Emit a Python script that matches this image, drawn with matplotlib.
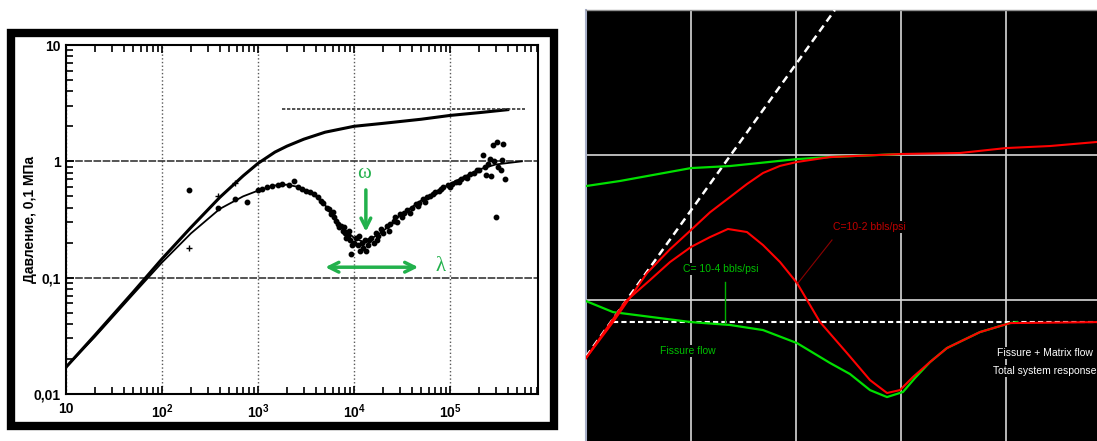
import matplotlib.pyplot as plt
import matplotlib.patches as mpatches

plt.rcParams['font.family'] = ['Liberation Sans', 'DejaVu Sans']
plt.rcParams['mathtext.default'] = 'regular'

# ---- left: field test, log-log (time vs pressure, 0.1 MPa) ----
t_p = [10, 20, 50, 100, 200, 400, 700, 1000, 1500, 2000, 3000, 5000,
       1e4, 2e4, 5e4, 1e5, 2e5, 4e5]
p_p = [0.017, 0.032, 0.075, 0.145, 0.27, 0.49, 0.75, 0.96, 1.2, 1.35,
       1.55, 1.78, 2.0, 2.12, 2.3, 2.48, 2.62, 2.78]

t_d = [10, 20, 50, 100, 200, 400, 700, 1000, 1500, 2000, 2700, 4000,
       5000, 6000, 8000, 1e4, 1.3e4, 2e4, 3e4, 5e4, 1e5, 2e5, 3e5, 5.6e5]
p_d = [0.017, 0.031, 0.072, 0.135, 0.24, 0.39, 0.5, 0.56, 0.62, 0.63,
       0.6, 0.5, 0.42, 0.34, 0.26, 0.22, 0.2, 0.25, 0.34, 0.46, 0.64,
       0.85, 0.94, 1.0]

dots_t = [190, 380, 570, 760, 1000, 1100, 1250, 1400, 1600, 1800, 2100,
          2400, 2600, 2900, 3200, 3500, 3800, 4200, 4500, 4800, 5200, 5500,
          5800, 6200, 6500, 6800, 7000, 7300, 7600, 8000, 8300, 8600, 9000,
          9300, 9600, 1.0e4, 1.05e4, 1.1e4, 1.15e4, 1.2e4, 1.25e4, 1.3e4,
          1.35e4, 1.4e4, 1.5e4, 1.6e4, 1.7e4, 1.8e4, 1.9e4, 2.0e4, 2.2e4,
          2.4e4, 2.6e4, 2.8e4, 3.0e4, 3.3e4, 3.6e4, 4.0e4, 4.4e4, 4.8e4,
          5.2e4, 5.7e4, 6.2e4, 7.0e4, 7.7e4, 8.5e4, 9.5e4, 1.05e5, 1.15e5,
          1.3e5, 1.45e5, 1.6e5, 1.8e5, 2.0e5, 2.2e5, 2.3e5, 2.4e5, 2.5e5,
          2.6e5, 2.7e5, 2.8e5, 2.9e5, 3.0e5, 3.1e5, 3.2e5, 3.4e5, 3.5e5,
          3.6e5, 3.7e5,
          # second row of the band
          6000, 7800, 8800, 1.12e4, 1.45e4, 1.75e4, 2.3e4, 2.7e4, 3.2e4,
          3.8e4, 4.6e4, 5.5e4, 6.6e4, 8.0e4, 1.0e5, 1.25e5, 1.5e5, 1.9e5]
dots_p = [0.57, 0.40, 0.47, 0.45, 0.57, 0.58, 0.60, 0.61, 0.63, 0.64, 0.62,
          0.68, 0.60, 0.58, 0.56, 0.54, 0.52, 0.49, 0.46, 0.44, 0.40, 0.39,
          0.35, 0.33, 0.31, 0.29, 0.27, 0.28, 0.25, 0.24, 0.22, 0.23, 0.21,
          0.16, 0.19, 0.20, 0.22, 0.19, 0.17, 0.20, 0.18, 0.21,
          0.17, 0.19, 0.22, 0.20, 0.24, 0.23, 0.26, 0.24, 0.28,
          0.29, 0.31, 0.30, 0.35, 0.36, 0.38, 0.40, 0.43, 0.44,
          0.47, 0.49, 0.50, 0.55, 0.56, 0.60, 0.62, 0.64, 0.67,
          0.70, 0.74, 0.78, 0.80, 0.85, 1.13, 0.90, 0.77, 0.95,
          1.05, 0.75, 1.37, 1.00, 0.33, 1.47, 0.90, 0.85, 1.02,
          1.40, 0.70,
          0.37, 0.27, 0.25, 0.23, 0.21, 0.21, 0.25, 0.33, 0.33,
          0.36, 0.41, 0.45, 0.52, 0.58, 0.60, 0.66, 0.72, 0.84]

plus_t = [190, 380, 570]
plus_p = [0.18, 0.50, 0.65]

asym_t = [1.8e3, 6e5]
asym_p = [2.8, 2.8]

# ---- right: type curves, axes in log10 decades ----
wbs_x = [-2.0, 0.37]
wbs_y = [-1.39, 1.0]
rad_x = [-1.74, 2.87]
rad_y = [-1.152, -1.152]

fis_px = [-2.0, -1.676, -1.0, -0.629, 0.010, 0.324, 1.0]
fis_py = [-0.214, -0.179, -0.090, -0.076, -0.028, -0.014, 0.007]

tot_px = [-2.0, -1.743, -1.419, -1.2, -1.0, -0.819, -0.629, -0.467, -0.314,
          -0.152, 0.010, 0.324, 1.0, 1.562, 2.0, 2.419, 2.867]
tot_py = [-1.400, -1.152, -0.814, -0.650, -0.517, -0.395, -0.290, -0.200,
          -0.124, -0.075, -0.048, -0.014, 0.007, 0.014, 0.048, 0.062, 0.090]

red_dx = [-2.0, -1.629, -1.390, -1.2, -1.0, -0.819, -0.648, -0.467, -0.314,
          -0.152, 0.010, 0.229, 0.486, 0.705, 0.867, 0.990, 1.114, 1.276,
          1.438, 1.752, 2.038, 2.867]
red_dy = [-1.400, -1.014, -0.862, -0.738, -0.634, -0.566, -0.510, -0.531,
          -0.621, -0.738, -0.883, -1.152, -1.366, -1.552, -1.641, -1.621,
          -1.531, -1.428, -1.331, -1.221, -1.159, -1.152]

grn_dx = [-2.0, -1.743, -1.0, -0.629, -0.314, 0.010, 0.324, 0.514, 0.705,
          0.867, 1.019, 1.133, 1.276, 1.438, 1.752, 2.038, 2.105]
grn_dy = [-1.007, -1.083, -1.152, -1.172, -1.207, -1.297, -1.434, -1.510,
          -1.621, -1.669, -1.634, -1.538, -1.428, -1.331, -1.221, -1.159,
          -1.152]

W, H = 1097, 441
fig = plt.figure(figsize=(W / 100, H / 100), dpi=100)

# black frame round the scanned plot
frame = mpatches.Rectangle((11 / W, (H - 426) / H), 543 / W, 393 / H,
                           transform=fig.transFigure, fill=False,
                           ec='black', lw=6)
fig.patches.append(frame)

ax = fig.add_axes([66 / W, (H - 394) / H, 472 / W, 349 / H])
ax.set_xscale('log')
ax.set_yscale('log')
ax.set_xlim(10, 10 ** 5.917)
ax.set_ylim(0.01, 10)

ax.grid(axis='x', which='major', ls=':', color='0.35', lw=1)
ax.grid(axis='y', which='major', ls=(0, (5, 1)), color='0.15', lw=1.1)

ax.plot(t_p, p_p, color='black', lw=2.2)
ax.plot(t_d, p_d, color='black', lw=1.3)
ax.plot(dots_t, dots_p, 'o', color='black', ms=3.2)
ax.plot(plus_t, plus_p, '+', color='black', ms=4, mew=1)
ax.plot(asym_t, asym_p, color='0.2', lw=1.2, ls=(0, (2, 1)))

ax.set_xticks([10, 1e2, 1e3, 1e4, 1e5])
ax.set_xticklabels(['10', '10$^2$', '10$^3$', '10$^4$', '10$^5$'])
ax.set_yticks([0.01, 0.1, 1, 10])
ax.set_yticklabels(['0,01', '0,1', '1', '10'])
for lab in ax.get_xticklabels() + ax.get_yticklabels():
    lab.set_fontweight('bold')
    lab.set_fontsize(10)
ax.tick_params(which='both', direction='in', top=True, right=False,
               width=1.2, colors='black')
ax.tick_params(which='major', length=6, pad=4)
ax.tick_params(which='minor', length=5)
ax.tick_params(axis='x', which='major', pad=6)
for s in ax.spines.values():
    s.set_linewidth(1.5)
ax.set_ylabel('Давление, 0,1 МПа', fontsize=10, fontweight='bold',
              labelpad=-3)

green = '#22b14c'
ax.text(1.27e4, 0.79, 'ω', color=green, fontsize=15, ha='center',
        va='center', family='Liberation Serif')
ax.annotate('', xy=(1.33e4, 0.235), xytext=(1.33e4, 0.60),
            arrowprops=dict(arrowstyle='->,head_length=0.7,head_width=0.35',
                            color=green, lw=2.5))
ax.annotate('', xy=(5.0e4, 0.123), xytext=(4.7e3, 0.123),
            arrowprops=dict(arrowstyle='<->,head_length=0.7,head_width=0.35',
                            color=green, lw=2.5))
ax.text(7.0e4, 0.125, 'λ', color=green, fontsize=15, ha='left',
        va='center', family='Liberation Serif')

# ---- right panel ----
bx = fig.add_axes([586 / W, 0, 511 / W, 431 / H])
bx.set_facecolor('black')
bx.set_xlim(-2.0, 2.867)
bx.set_ylim(-1.972, 1.0)
bx.set_xticks([-1, 0, 1, 2])
bx.set_yticks([-1, 0])
bx.tick_params(length=0, labelbottom=False, labelleft=False)
bx.grid(color='#d8d8d8', lw=1.2)
for k in ['right', 'bottom']:
    bx.spines[k].set_visible(False)
bx.spines['top'].set_color('#909090')
bx.spines['top'].set_linewidth(1)
bx.spines['left'].set_color('#a8b0c8')
bx.spines['left'].set_linewidth(1.5)

bx.plot(rad_x, rad_y, color='white', lw=1.5, ls=(0, (2.5, 1.5)), zorder=3)
bx.plot(wbs_x, wbs_y, color='white', lw=1.8, ls=(0, (3, 2)), zorder=3)
bx.plot(fis_px, fis_py, color='#00e000', lw=1.6, zorder=4)
bx.plot(grn_dx, grn_dy, color='#00e000', lw=1.6, zorder=4)
bx.plot(tot_px, tot_py, color='#ff0000', lw=1.5, zorder=5)
bx.plot(red_dx, red_dy, color='#ff0000', lw=1.5, zorder=5)

box = dict(facecolor='black', edgecolor='none', pad=1)
bx.text(0.352, -0.497, 'C=10-2 bbls/psi', color='#c00000', fontsize=7.5,
        va='center', ha='left', bbox=box, zorder=6)
bx.plot([0.343, 0.019], [-0.586, -0.883], color='#8b0000', lw=0.8,
        zorder=6)
bx.text(-1.076, -0.786, 'C= 10-4 bbls/psi', color='#00c000', fontsize=7.5,
        va='center', ha='left', bbox=box, zorder=6)
bx.plot([-0.676, -0.676], [-0.876, -1.159], color='#00b000', lw=1,
        zorder=6)
bx.text(-1.295, -1.352, 'Fissure flow', color='#00c000', fontsize=7.5,
        va='center', ha='left', bbox=box, zorder=6)
bx.text(1.914, -1.366, 'Fissure + Matrix flow', color='white',
        fontsize=7.5, va='center', ha='left', bbox=box, zorder=6,
        clip_on=False)
bx.text(1.876, -1.490, 'Total system response', color='white',
        fontsize=7.5, va='center', ha='left', bbox=box, zorder=6,
        clip_on=False)

fig.savefig('out.png', dpi=100)
